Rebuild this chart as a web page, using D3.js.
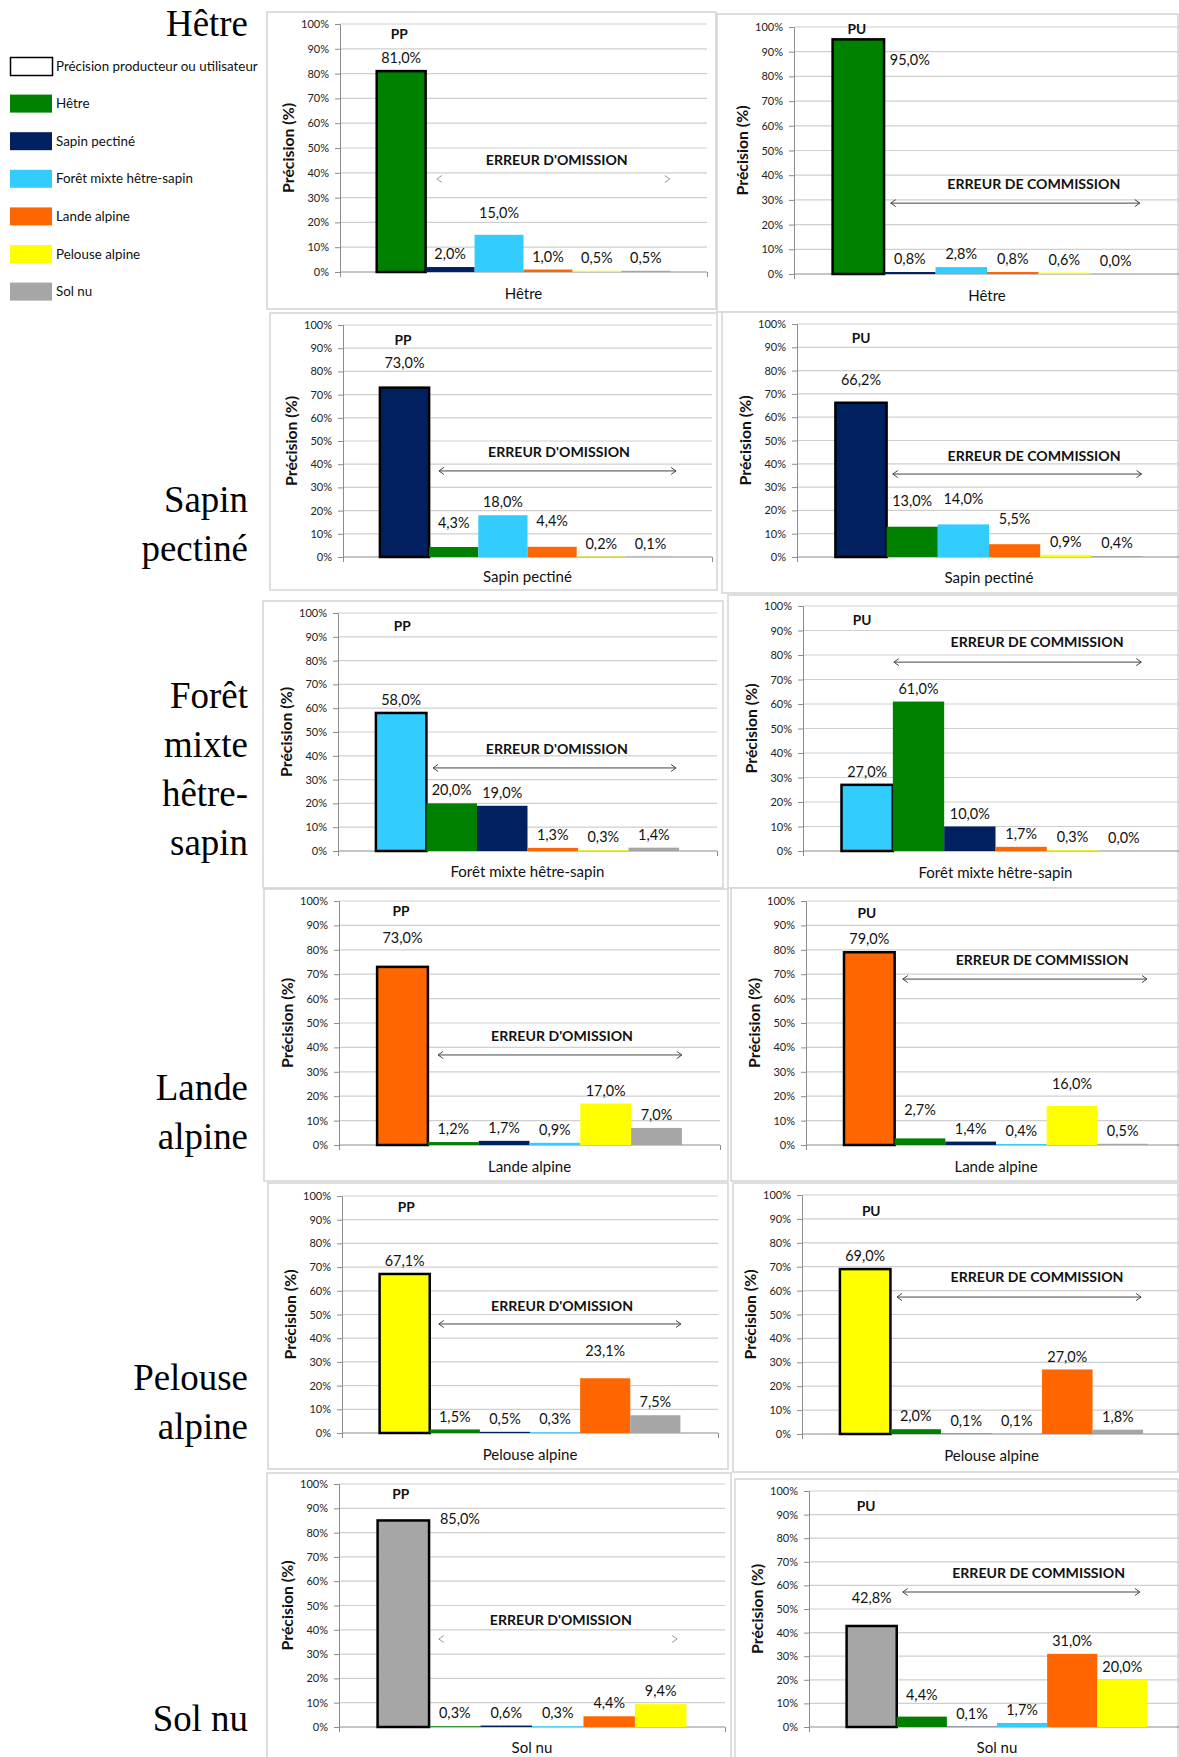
<!DOCTYPE html>
<html><head><meta charset="utf-8">
<script src="https://cdn.jsdelivr.net/npm/d3@7"></script>
<style>body{margin:0;background:#fff} svg{display:block}</style>
</head><body>
<svg id="c" width="1179" height="1757"></svg>
<script>
// ---------- DATA ----------
const classes = ["Hêtre", "Sapin pectiné", "Forêt mixte hêtre-sapin", "Lande alpine", "Pelouse alpine", "Sol nu"];
const classColors = ["#008000", "#002060", "#33CCFF", "#FF6600", "#FFFF00", "#A6A6A6"];
const legendTitle = "Précision producteur ou utilisateur";
const sideTitles = [["Hêtre"], ["Sapin", "pectiné"], ["Forêt", "mixte", "hêtre-", "sapin"], ["Lande", "alpine"], ["Pelouse", "alpine"], ["Sol nu"]];
const tickValues = [0, 10, 20, 30, 40, 50, 60, 70, 80, 90, 100];
const yAxisTitle = "Précision (%)";
const omissionText = "ERREUR D'OMISSION";
const commissionText = "ERREUR DE COMMISSION";

// values in displayed order: reference class first, then the others in class order
const ppHetre   = [81.0, 2.0, 15.0, 1.0, 0.5, 0.5];
const ppSapin   = [73.0, 4.3, 18.0, 4.4, 0.2, 0.1];
const ppForet   = [58.0, 20.0, 19.0, 1.3, 0.3, 1.4];
const ppLande   = [73.0, 1.2, 1.7, 0.9, 17.0, 7.0];
const ppPelouse = [67.1, 1.5, 0.5, 0.3, 23.1, 7.5];
const ppSol     = [85.0, 0.3, 0.6, 0.3, 4.4, 9.4];
const puHetre   = [95.0, 0.8, 2.8, 0.8, 0.6, 0.0];
const puSapin   = [66.2, 13.0, 14.0, 5.5, 0.9, 0.4];
const puForet   = [27.0, 61.0, 10.0, 1.7, 0.3, 0.0];
const puLande   = [79.0, 2.7, 1.4, 0.4, 16.0, 0.5];
const puPelouse = [69.0, 2.0, 0.1, 0.1, 27.0, 1.8];
const puSol     = [42.8, 4.4, 0.1, 1.7, 31.0, 20.0];

// ---------- LAYOUT ----------
const panels = [
 {cls:0, kind:"PP", values:ppHetre, frame:[267,12,716,309], plot:[340,24,707,272], tag:[0.46,96], title:[3.68,45.2], arrow:[1.23,5.99,37.5], line:false, xlab:22, shifts:{2:{lift:22}}},
 {cls:0, kind:"PU", values:puHetre, frame:[717,14,1178,312], plot:[794,27,1180,274], tag:[0.47,99.2], title:[3.91,36.4], arrow:[1.13,5.97,28.7], line:true, xlab:22, shifts:{0:{lift:-21, du:1}}},
 {cls:1, kind:"PP", values:ppSapin, frame:[270,313,717,590], plot:[343,325,712,557], tag:[0.47,93.5], title:[3.64,45.3], arrow:[1.2,6.02,37.1], line:true, xlab:20, shifts:{0:{lift:25},1:{lift:24},3:{lift:26}}},
 {cls:1, kind:"PU", values:puSapin, frame:[722,312,1178,593], plot:[797,324,1181,557], tag:[0.5,94], title:[3.88,43.3], arrow:[1.12,5.98,35.6], line:true, xlab:21, shifts:{0:{lift:23},1:{lift:26},2:{lift:25},3:{lift:25}}},
 {cls:2, kind:"PP", values:ppForet, frame:[263,601,723,888], plot:[338,613,717,851], tag:[0.52,94.5], title:[3.58,42.9], arrow:[1.13,5.94,34.9], line:true, xlab:21, shifts:{}},
 {cls:2, kind:"PU", values:puForet, frame:[728,595,1178,888], plot:[803,606,1188,851], tag:[0.4,94.3], title:[3.81,85.3], arrow:[1.02,5.84,77.1], line:true, xlab:22, shifts:{}},
 {cls:3, kind:"PP", values:ppLande, frame:[264,889,728,1181], plot:[339,901,720,1145], tag:[0.47,95.9], title:[3.64,44.7], arrow:[1.2,6.0,36.9], line:true, xlab:22, shifts:{0:{lift:29}}},
 {cls:3, kind:"PU", values:puLande, frame:[731,888,1178,1181], plot:[806,901,1186,1145], tag:[0.45,95.1], title:[3.91,75.8], arrow:[1.16,5.98,68], line:true, xlab:22, shifts:{1:{lift:28},4:{lift:22}}},
 {cls:4, kind:"PP", values:ppPelouse, frame:[268,1183,728,1469], plot:[342,1196,718,1433], tag:[0.53,95.4], title:[3.64,53.6], arrow:[1.18,6.01,46], line:true, xlab:22, shifts:{4:{lift:27}}},
 {cls:4, kind:"PU", values:puPelouse, frame:[733,1183,1178,1472], plot:[802,1195,1181,1434], tag:[0.62,93.3], title:[3.9,65.7], arrow:[1.13,5.96,57.3], line:true, xlab:22, shifts:{}},
 {cls:5, kind:"PP", values:ppSol, frame:[267,1473,731,1760], plot:[339,1484,725,1727], tag:[0.45,95.9], title:[3.56,44], arrow:[1.19,5.82,36.2], line:false, xlab:21, shifts:{0:{lift:2, du:1.1}}},
 {cls:5, kind:"PU", values:puSol, frame:[735,1479,1178,1760], plot:[809,1491,1185,1727], tag:[0.39,93.6], title:[3.83,65.3], arrow:[1.12,5.85,57.2], line:true, xlab:21, shifts:{0:{lift:28},1:{lift:22}}}
];
const sideTitleBaselines = [[36], [512, 561], [708, 757, 806, 855], [1100, 1149], [1390, 1439], [1731]];

const FONT = "Lato, 'Open Sans', sans-serif";
const SERIF = "'Liberation Serif', 'DejaVu Serif', serif";
const svg = d3.select("#c");
const fmt = v => d3.format(".1f")(v).replace(".", ",") + "%";

// font sizes fitted so that sample strings reach the widths seen in the reference
function fitSize(sample, target, family, weight) {
  const t = svg.append("text").attr("font-family", family).attr("font-weight", weight)
    .attr("font-size", 20).text(sample);
  const w = t.node().getComputedTextLength();
  t.remove();
  return 20 * target / w;
}
const FS = {
  tick:   fitSize("100%", 28, FONT, "normal"),
  value:  fitSize("81,0%", 40, FONT, "normal"),
  xlab:   fitSize("Sapin pectiné", 89, FONT, "normal"),
  err:    fitSize(omissionText, 142, FONT, "bold"),
  ytitle: fitSize(yAxisTitle, 90, FONT, "bold"),
  tag:    fitSize("PP", 17, FONT, "bold"),
  legend: fitSize(legendTitle, 202, FONT, "normal"),
  side:   fitSize("Hêtre", 82, SERIF, "normal")
};

// ---------- side titles ----------
sideTitles.forEach((lines, i) => {
  lines.forEach((t, j) => {
    svg.append("text").attr("x", 248).attr("y", sideTitleBaselines[i][j])
      .attr("text-anchor", "end").attr("font-family", SERIF)
      .attr("font-size", FS.side).attr("fill", "#000").text(t);
  });
});

// ---------- legend ----------
const legendItems = [{label: legendTitle, fill: "#fff", stroke: "#000"}]
  .concat(classes.map((c, i) => ({label: c, fill: classColors[i], stroke: "none"})));
const lg = svg.append("g");
legendItems.forEach((d, i) => {
  const y = 57 + i * 37.6;
  lg.append("rect").attr("x", d.stroke === "none" ? 10 : 10.5).attr("y", d.stroke === "none" ? y : y + 0.5)
    .attr("width", 42).attr("height", 18)
    .attr("fill", d.fill).attr("stroke", d.stroke).attr("stroke-width", d.stroke === "none" ? 0 : 1.5);
  lg.append("text").attr("x", 56).attr("y", y + 9).attr("dy", "0.35em")
    .attr("font-family", FONT).attr("font-size", FS.legend).attr("fill", "#111").text(d.label);
});

// ---------- panels ----------
panels.forEach(p => {
  const [fx0, fy0, fx1, fy1] = p.frame;
  const [pl, pt, pr, pb] = p.plot;
  const g = svg.append("g");
  g.append("rect").attr("x", fx0).attr("y", fy0).attr("width", fx1 - fx0).attr("height", fy1 - fy0)
    .attr("fill", "#fff").attr("stroke", "#d4d4d4").attr("stroke-width", 1.5);

  const order = [p.cls].concat(d3.range(classes.length).filter(i => i !== p.cls));
  const x = d3.scaleBand().domain(d3.range(order.length)).range([pl, pr]).paddingInner(0).paddingOuter(0.75);
  const y = d3.scaleLinear().domain([0, 100]).range([pb, pt]);
  const step = x.step();
  const ux = u => x(0) + u * step;

  // gridlines
  g.append("g").selectAll("line").data(tickValues.filter(v => v > 0)).join("line")
    .attr("x1", pl).attr("x2", pr).attr("y1", d => y(d)).attr("y2", d => y(d))
    .attr("stroke", "#cfcfcf").attr("stroke-width", 1.2);

  // y axis
  const ya = g.append("g").attr("transform", `translate(${pl},0)`)
    .call(d3.axisLeft(y).tickValues(tickValues).tickSize(5).tickPadding(6).tickFormat(d => d + "%"));
  ya.select(".domain").attr("stroke", "#8c8c8c");
  ya.selectAll(".tick line").attr("stroke", "#8c8c8c");
  ya.selectAll("text").attr("font-family", FONT).attr("font-size", FS.tick).attr("fill", "#222");

  // x axis baseline with end ticks
  const xa = g.append("g").attr("transform", `translate(0,${pb})`)
    .call(d3.axisBottom(d3.scaleLinear().domain([0, 1]).range([pl, pr])).tickValues([0, 1]).tickSize(5).tickFormat(""));
  xa.select(".domain").attr("stroke", "#8c8c8c").attr("d", `M${pl},0H${pr}`);
  xa.selectAll(".tick line").attr("stroke", "#8c8c8c");

  // bars
  const bars = p.values.map((v, i) => ({v, i, c: order[i]}));
  g.append("g").selectAll("rect").data(bars.filter(d => d.v > 0)).join("rect")
    .attr("x", d => x(d.i)).attr("width", x.bandwidth())
    .attr("y", d => y(d.v)).attr("height", d => y(0) - y(d.v))
    .attr("fill", d => classColors[d.c])
    .attr("stroke", d => d.i === 0 ? "#000" : "none")
    .attr("stroke-width", d => d.i === 0 ? 2.5 : 0);

  // value labels
  g.append("g").selectAll("text").data(bars).join("text")
    .attr("x", d => x(d.i) + x.bandwidth() / 2 + ((p.shifts[d.i] && p.shifts[d.i].du) || 0) * step)
    .attr("y", d => y(d.v) - ((p.shifts[d.i] && p.shifts[d.i].lift !== undefined) ? p.shifts[d.i].lift : 13))
    .attr("dy", "0.35em").attr("text-anchor", "middle")
    .attr("font-family", FONT).attr("font-size", FS.value).attr("fill", "#111")
    .text(d => fmt(d.v));

  // tag PP / PU
  g.append("text").attr("x", ux(p.tag[0])).attr("y", y(p.tag[1])).attr("dy", "0.35em")
    .attr("text-anchor", "middle").attr("font-family", FONT).attr("font-weight", "bold")
    .attr("font-size", FS.tag).attr("fill", "#111").text(p.kind);

  // error title
  g.append("text").attr("x", ux(p.title[0])).attr("y", y(p.title[1])).attr("dy", "0.35em")
    .attr("text-anchor", "middle").attr("font-family", FONT).attr("font-weight", "bold")
    .attr("font-size", FS.err).attr("fill", "#111").text(p.kind === "PP" ? omissionText : commissionText);

  // double arrow
  const ax1 = ux(p.arrow[0]), ax2 = ux(p.arrow[1]), ay = y(p.arrow[2]);
  if (p.line) g.append("line").attr("x1", ax1).attr("x2", ax2).attr("y1", ay).attr("y2", ay)
    .attr("stroke", "#444").attr("stroke-width", 1);
  g.append("path").attr("d", `M${ax1 + 5},${ay - 3.5}L${ax1},${ay}L${ax1 + 5},${ay + 3.5}M${ax2 - 5},${ay - 3.5}L${ax2},${ay}L${ax2 - 5},${ay + 3.5}`)
    .attr("fill", "none").attr("stroke", p.line ? "#444" : "#999").attr("stroke-width", 1);

  // x category label
  g.append("text").attr("x", (pl + pr) / 2).attr("y", pb + p.xlab).attr("dy", "0.35em")
    .attr("text-anchor", "middle").attr("font-family", FONT).attr("font-size", FS.xlab).attr("fill", "#111")
    .text(classes[p.cls]);

  // y axis title
  g.append("text").attr("transform", `translate(${pl - 52},${(pt + pb) / 2}) rotate(-90)`)
    .attr("dy", "0.35em").attr("text-anchor", "middle").attr("font-family", FONT)
    .attr("font-weight", "bold").attr("font-size", FS.ytitle).attr("fill", "#111").text(yAxisTitle);
});
</script>
</body></html>
